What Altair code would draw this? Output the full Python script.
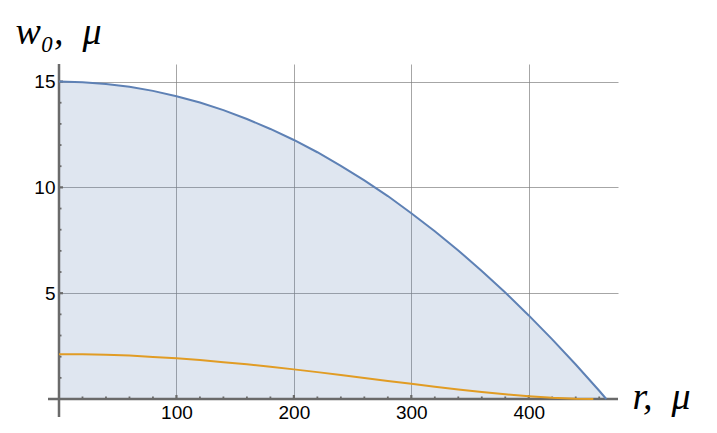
import altair as alt
import pandas as pd

# ---- data ----
r_blue = [0, 20, 40, 60, 80, 100, 120, 140, 160, 180, 200, 220, 240, 260, 280,
          300, 320, 340, 360, 380, 400, 420, 440, 460, 466]
w_blue = [15.0, 14.97, 14.89, 14.75, 14.56, 14.31, 14.01, 13.65, 13.23, 12.76,
          12.24, 11.66, 11.02, 10.33, 9.59, 8.78, 7.93, 7.02, 6.05, 5.03,
          3.95, 2.82, 1.63, 0.39, 0.0]

r_orange = [0, 20, 40, 60, 80, 100, 120, 140, 160, 180, 200, 220, 240, 260, 280,
            300, 320, 340, 360, 380, 400, 420, 440, 455]
w_orange = [2.12, 2.11, 2.09, 2.05, 1.99, 1.92, 1.84, 1.74, 1.64, 1.52,
            1.40, 1.27, 1.13, 0.99, 0.85, 0.72, 0.58, 0.45, 0.33, 0.22,
            0.13, 0.06, 0.015, 0.0]

x_major = [100, 200, 300, 400]
y_major = [5, 10, 15]
x_minor = [20, 40, 60, 80, 120, 140, 160, 180, 220, 240, 260, 280, 320, 340,
           360, 380, 420, 440, 460]
y_minor = [1, 2, 3, 4, 6, 7, 8, 9, 11, 12, 13, 14]

X_TITLE = "r,\u2002\u03bc"
Y_TITLE = "w\u2080,\u2002\u03bc"

X_MAX = 476
Y_MAX = 15.83
W, H = 559, 335

AXIS_COLOR = "#6a6a6a"
BLUE = "#5e81b5"
ORANGE = "#e19c24"

blue = pd.DataFrame({"r": r_blue, "w": w_blue})
orange = pd.DataFrame({"r": r_orange, "w": w_orange})
xmaj = pd.DataFrame({"t": x_major})
xmin = pd.DataFrame({"t": x_minor})
ymaj = pd.DataFrame({"t": y_major})
ymin = pd.DataFrame({"t": y_minor})
one = pd.DataFrame({"k": [0]})

xs = alt.Scale(domain=[0, X_MAX], nice=False, zero=False)
ys = alt.Scale(domain=[0, Y_MAX], nice=False, zero=False)

common_axis = dict(
    grid=True, gridColor="#808080", gridOpacity=0.7, gridWidth=1,
    ticks=False, domain=False,
    labelFont="Liberation Sans", labelFontSize=19, labelColor="#000000",
    labelPadding=4, labelFlush=False, labelOverlap=False,
    titleFont="Liberation Serif", titleFontStyle="italic",
    titleFontWeight="normal", titleFontSize=38, titleColor="#000000",
    titleAngle=0, titleAlign="left", titleBaseline="alphabetic",
)
x_axis = alt.Axis(values=x_major, titleX=573, titleY=9, **common_axis)
y_axis = alt.Axis(values=y_major, titleX=-44, titleY=-21, **common_axis)


def X(f):
    return alt.X(f, scale=xs, title=X_TITLE, axis=x_axis)


def Y(f):
    return alt.Y(f, scale=ys, title=Y_TITLE, axis=y_axis)


area = alt.Chart(blue).mark_area(color=BLUE, opacity=0.2).encode(
    x=X("r:Q"), y=Y("w:Q"),
)
blue_line = alt.Chart(blue).mark_line(color=BLUE, strokeWidth=2).encode(
    x=X("r:Q"), y=Y("w:Q"),
)
orange_line = alt.Chart(orange).mark_line(color=ORANGE, strokeWidth=2).encode(
    x=X("r:Q"), y=Y("w:Q"),
)


def xticks(df, length, thick):
    return alt.Chart(df).mark_tick(
        orient="vertical", size=length, thickness=thick, color=AXIS_COLOR,
        yOffset=-length / 2, opacity=1,
    ).transform_calculate(z="0").encode(x=X("t:Q"), y=Y("z:Q"))


def yticks(df, length, thick):
    return alt.Chart(df).mark_tick(
        orient="horizontal", size=length, thickness=thick, color=AXIS_COLOR,
        xOffset=length / 2, opacity=1,
    ).transform_calculate(z="0").encode(x=X("z:Q"), y=Y("t:Q"))


x_line = alt.Chart(one).mark_rule(color=AXIS_COLOR, strokeWidth=2.5, xOffset=-11).transform_calculate(
    z="0", e=str(X_MAX)
).encode(x=X("z:Q"), x2="e:Q", y=Y("z:Q"))

y_line = alt.Chart(one).mark_rule(color=AXIS_COLOR, strokeWidth=2.5, yOffset=18).transform_calculate(
    z="0", e=str(Y_MAX)
).encode(x=X("z:Q"), y=Y("z:Q"), y2="e:Q")

chart = alt.layer(
    area,
    xticks(xmin, 2.5, 1.8), xticks(xmaj, 4, 2.2),
    yticks(ymin, 2.5, 1.8), yticks(ymaj, 4, 2.2),
    x_line, y_line,
    blue_line, orange_line,
).properties(
    width=W, height=H,
    autosize=alt.AutoSizeParams(type="none"),
    padding={"left": 51, "top": 56, "right": 91, "bottom": 26},
).configure_view(stroke="transparent")

chart.save("out.html", embed_options={"renderer": "svg", "actions": False})
